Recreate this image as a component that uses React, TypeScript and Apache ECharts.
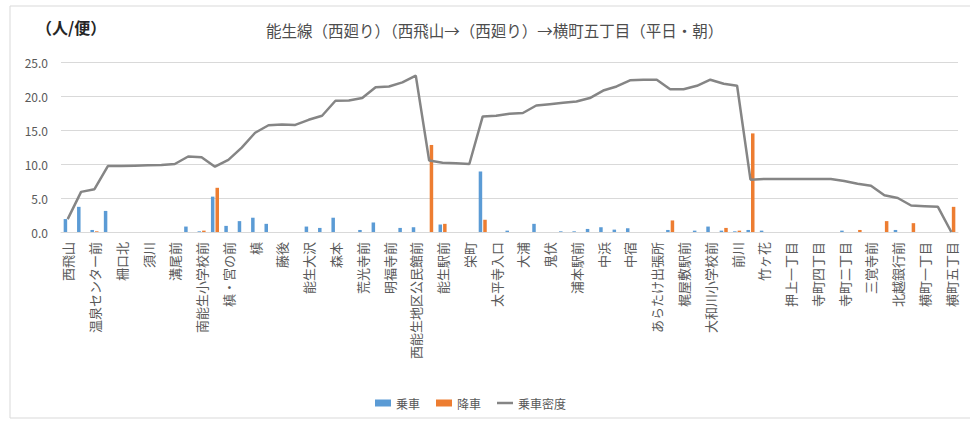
import React, { useEffect, useRef } from "react";
import * as echarts from "echarts";

// 67 stops; only every second stop carries a visible name in the reference
const stopNames: string[] = [
  "西飛山", "", "温泉センター前", "", "柵口北", "", "須川", "", "溝尾前", "",
  "南能生小学校前", "", "槙・宮の前", "", "槙", "", "藤後", "", "能生大沢", "",
  "森本", "", "荒光寺前", "", "明福寺前", "", "西能生地区公民館前", "", "能生駅前", "",
  "栄町", "", "太平寺入口", "", "大浦", "", "鬼伏", "", "浦本駅前", "",
  "中浜", "", "中宿", "", "あらたけ出張所", "", "梶屋敷駅前", "", "大和川小学校前", "",
  "前川", "", "竹ヶ花", "", "押上一丁目", "", "寺町四丁目", "", "寺町二丁目", "",
  "三覚寺前", "", "北越銀行前", "", "横町一丁目", "", "横町五丁目",
];

const boarding: number[] = [
  1.9, 3.7, 0.3, 3.1, 0, 0, 0, 0, 0, 0.8,
  0.1, 5.2, 0.9, 1.6, 2.1, 1.2, 0, 0, 0.8, 0.6,
  2.1, 0, 0.3, 1.4, 0, 0.6, 0.7, 0, 1.1, 0,
  0, 8.9, 0, 0.2, 0, 1.2, 0, 0.1, 0.1, 0.45,
  0.7, 0.35, 0.55, 0, 0, 0.3, 0, 0.2, 0.8, 0.2,
  0.1, 0.3, 0.2, 0, 0, 0, 0, 0, 0.2, 0,
  0, 0, 0.3, 0, 0, 0, 0,
];

const alighting: number[] = [
  0, 0, 0.1, 0, 0, 0, 0, 0, 0, 0,
  0.2, 6.5, 0, 0, 0, 0, 0, 0, 0, 0,
  0, 0, 0, 0, 0, 0, 0, 12.8, 1.2, 0,
  0, 1.8, 0, 0, 0, 0, 0, 0, 0, 0,
  0, 0, 0, 0, 0, 1.7, 0, 0, 0, 0.6,
  0.2, 14.5, 0, 0, 0, 0, 0, 0, 0, 0.3,
  0, 1.6, 0, 1.3, 0, 0, 3.7,
];

const density: number[] = [
  1.9, 5.9, 6.3, 9.7, 9.7, 9.75, 9.8, 9.85, 10.0, 11.1,
  11.0, 9.6, 10.6, 12.4, 14.6, 15.7, 15.8, 15.75, 16.5, 17.1,
  19.3, 19.35, 19.7, 21.3, 21.4, 22.0, 23.0, 10.5, 10.2, 10.1,
  10.0, 17.0, 17.1, 17.4, 17.5, 18.6, 18.8, 19.0, 19.2, 19.7,
  20.8, 21.4, 22.3, 22.4, 22.4, 21.0, 21.0, 21.5, 22.4, 21.8,
  21.5, 7.7, 7.8, 7.8, 7.8, 7.8, 7.8, 7.8, 7.5, 7.1,
  6.8, 5.4, 5.0, 3.9, 3.8, 3.7, 0,
];

const yTicks = { min: 0, max: 25, interval: 5 };
const titleText = "能生線（西廻り）（西飛山→（西廻り）→横町五丁目（平日・朝）";
const unitText = "（人/便）";
const seriesNames = ["乗車", "降車", "乗車密度"];

export default function App() {
  const ref = useRef<HTMLDivElement>(null);
  useEffect(() => {
    if (!ref.current) return;
    const chart = echarts.init(ref.current, undefined, { renderer: "svg" });
    const font = "'Noto Sans CJK JP', 'Noto Sans', sans-serif";
    chart.setOption({
      animation: false,
      backgroundColor: "#ffffff",
      textStyle: { fontFamily: font },
      title: [
        {
          text: unitText,
          left: 36,
          top: 19,
          padding: 0,
          textStyle: { fontSize: 16, fontWeight: "bold", color: "#262626", fontFamily: font },
        },
        {
          text: titleText,
          left: 266,
          top: 22,
          padding: 0,
          textStyle: { fontSize: 15.5, fontWeight: "normal", color: "#4d4d4d", fontFamily: font },
        },
      ],
      graphic: [
        {
          type: "rect",
          silent: true,
          z: -1,
          shape: { x: 10, y: 6, width: 980, height: 412 },
          style: { fill: "none", stroke: "#d9d9d9", lineWidth: 1 },
        },
      ],
      legend: {
        left: 370,
        top: 392,
        itemWidth: 16,
        itemHeight: 7,
        itemGap: 16,
        symbolKeepAspect: true,
        textStyle: { fontSize: 12, color: "#595959", fontFamily: font },
        data: [
          { name: seriesNames[0], icon: "rect" },
          { name: seriesNames[1], icon: "rect" },
          { name: seriesNames[2], icon: "path://M0,0 L16,0 L16,2.5 L0,2.5 Z" },
        ],
      },
      grid: { left: 61, right: 12, top: 62, bottom: 189, containLabel: false },
      xAxis: {
        type: "category",
        data: stopNames,
        axisTick: { show: false },
        axisLine: { lineStyle: { color: "#d9d9d9" } },
        axisLabel: {
          interval: 0,
          rotate: 90,
          fontSize: 13,
          color: "#595959",
          margin: 10,
          fontFamily: font,
        },
      },
      yAxis: {
        type: "value",
        min: yTicks.min,
        max: yTicks.max,
        interval: yTicks.interval,
        axisLine: { show: false },
        axisTick: { show: false },
        splitLine: { lineStyle: { color: "#d9d9d9" } },
        axisLabel: {
          formatter: (v: number) => v.toFixed(1),
          fontSize: 12,
          color: "#595959",
          margin: 13,
          fontFamily: font,
        },
      },
      series: [
        {
          name: seriesNames[0],
          type: "bar",
          data: boarding,
          barWidth: 3.5,
          barGap: "30%",
          itemStyle: { color: "#5B9BD5" },
        },
        {
          name: seriesNames[1],
          type: "bar",
          data: alighting,
          barWidth: 3.5,
          barGap: "30%",
          itemStyle: { color: "#ED7D31" },
        },
        {
          name: seriesNames[2],
          type: "line",
          data: density,
          symbol: "none",
          lineStyle: { color: "#858585", width: 2.5 },
          itemStyle: { color: "#858585" },
          z: 3,
        },
      ],
    });
    return () => chart.dispose();
  }, []);
  return (
    <div
      ref={ref}
      style={{ position: "absolute", left: 0, top: 0, width: 970, height: 421 }}
    />
  );
}
